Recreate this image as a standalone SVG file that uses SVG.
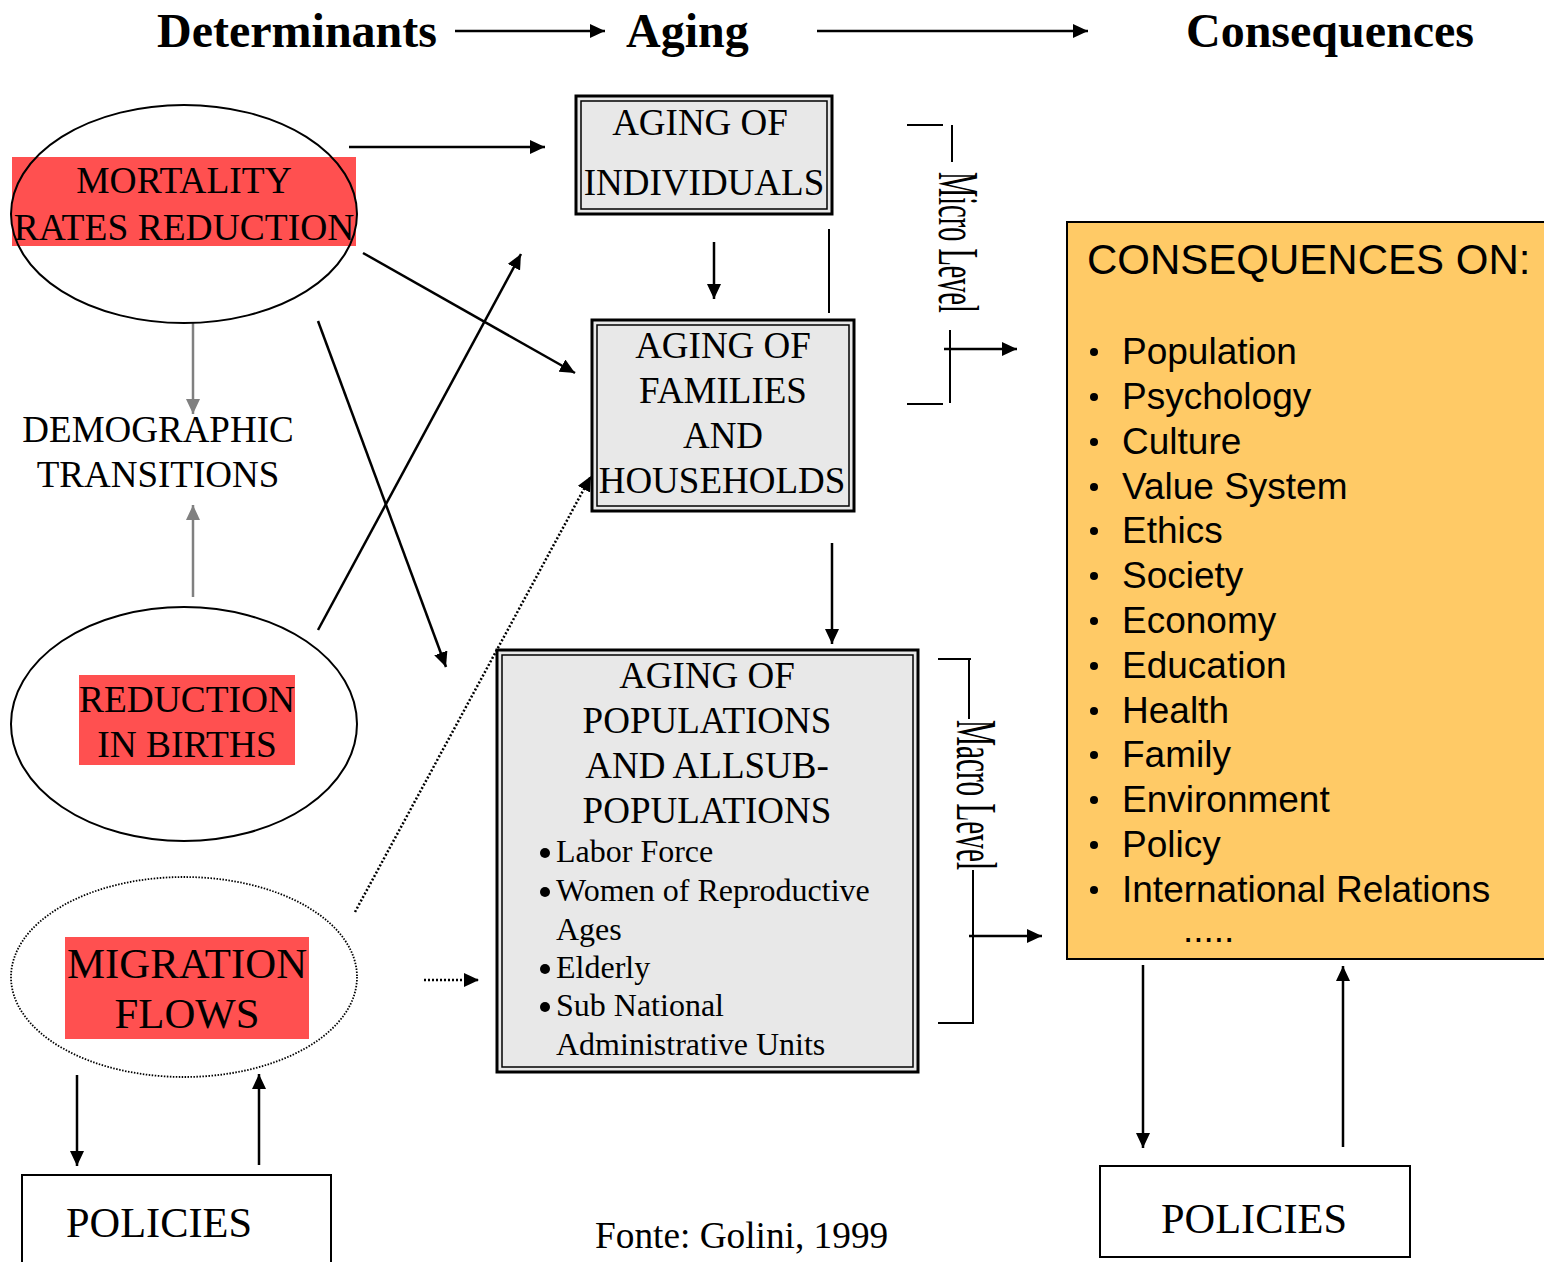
<svg xmlns="http://www.w3.org/2000/svg" width="1544" height="1262" viewBox="0 0 1544 1262">
<style>
.serif{font-family:"Liberation Serif","Times New Roman",serif;fill:#000}
.sans{font-family:"Liberation Sans",Arial,sans-serif;fill:#000}
.hdr{font-size:48px;font-weight:bold}
.mid{font-size:32px}
.cons{font-size:37px}
.conn{stroke:#000;stroke-width:2.5;fill:none}
.gray{stroke:#808080;stroke-width:2.5;fill:none}
.dot{stroke:#000;stroke-width:2.5;fill:none;stroke-dasharray:2,2}
.brk{stroke:#000;stroke-width:2;fill:none}
.oval{fill:none;stroke:#000;stroke-width:2}
.red{fill:#ff5050}
.outer{fill:#e8e8e8;stroke:#000;stroke-width:3}
.inner{fill:none;stroke:#000;stroke-width:1.5}
.cond{font-family:"Liberation Serif","Times New Roman",serif;font-size:57px;fill:#000}
</style>
<defs>
<marker id="ah" markerUnits="userSpaceOnUse" markerWidth="16" markerHeight="14" refX="15" refY="7" orient="auto">
<path d="M0,0 L15,7 L0,14 z" fill="#000"/>
</marker>
<marker id="ahg" markerUnits="userSpaceOnUse" markerWidth="16" markerHeight="14" refX="15" refY="7" orient="auto">
<path d="M0,0 L15,7 L0,14 z" fill="#808080"/>
</marker>
</defs>

<g id="header">
<text class="serif hdr" x="157" y="47">Determinants</text>
<text class="serif hdr" x="626" y="47">Aging</text>
<text class="serif hdr" x="1186" y="47">Consequences</text>
</g>

<g id="connectors">
<line class="conn" x1="455" y1="31" x2="605" y2="31" marker-end="url(#ah)"/>
<line class="conn" x1="817" y1="31" x2="1088" y2="31" marker-end="url(#ah)"/>
<line class="conn" x1="349" y1="147" x2="545" y2="147" marker-end="url(#ah)"/>
<line class="conn" x1="363" y1="253" x2="575" y2="373" marker-end="url(#ah)"/>
<line class="conn" x1="318" y1="321" x2="446" y2="667" marker-end="url(#ah)"/>
<line class="conn" x1="318" y1="630" x2="521" y2="254" marker-end="url(#ah)"/>
<line class="gray" x1="193" y1="323" x2="193" y2="414" marker-end="url(#ahg)"/>
<line class="gray" x1="193" y1="597" x2="193" y2="505" marker-end="url(#ahg)"/>
<line class="dot" x1="355" y1="912" x2="591" y2="476" marker-end="url(#ah)"/>
<line class="dot" x1="424" y1="980" x2="479" y2="980" marker-end="url(#ah)"/>
<line class="conn" x1="77" y1="1075" x2="77" y2="1166" marker-end="url(#ah)"/>
<line class="conn" x1="259" y1="1165" x2="259" y2="1074" marker-end="url(#ah)"/>
<line class="conn" x1="714" y1="242" x2="714" y2="299" marker-end="url(#ah)"/>
<line class="brk" x1="829" y1="229" x2="829" y2="313"/>
<line class="conn" x1="832" y1="543" x2="832" y2="644" marker-end="url(#ah)"/>
<line class="conn" x1="944" y1="349" x2="1017" y2="349" marker-end="url(#ah)"/>
<line class="conn" x1="969" y1="936" x2="1042" y2="936" marker-end="url(#ah)"/>
<line class="conn" x1="1143" y1="965" x2="1143" y2="1148" marker-end="url(#ah)"/>
<line class="conn" x1="1343" y1="1147" x2="1343" y2="966" marker-end="url(#ah)"/>
</g>

<g id="mortality">
<rect class="red" x="12" y="157" width="344" height="89"/>
<ellipse class="oval" cx="184" cy="214" rx="173" ry="109"/>
<text class="serif" font-size="37.5" x="184" y="193" text-anchor="middle">MORTALITY</text>
<text class="serif" font-size="37.5" x="184" y="240" text-anchor="middle">RATES REDUCTION</text>
</g>

<g id="demographic-transitions">
<text class="serif" font-size="37" x="158" y="442" text-anchor="middle">DEMOGRAPHIC</text>
<text class="serif" font-size="37" x="158" y="487" text-anchor="middle">TRANSITIONS</text>
</g>

<g id="births">
<ellipse class="oval" cx="184" cy="724" rx="173" ry="117"/>
<rect class="red" x="79" y="675" width="216" height="90"/>
<text class="serif" font-size="37.4" x="187" y="712" text-anchor="middle">REDUCTION</text>
<text class="serif" font-size="37.4" x="187" y="757" text-anchor="middle">IN BIRTHS</text>
</g>

<g id="migration">
<ellipse cx="184" cy="977" rx="173" ry="100" fill="none" stroke="#000" stroke-width="1.8" stroke-dasharray="1.5,1.5"/>
<rect class="red" x="65" y="937" width="244" height="102"/>
<text class="serif" font-size="42.8" x="187" y="978" text-anchor="middle">MIGRATION</text>
<text class="serif" font-size="42.8" x="187" y="1028" text-anchor="middle">FLOWS</text>
</g>

<g id="policies-left">
<rect x="22" y="1175" width="309" height="100" fill="none" stroke="#000" stroke-width="2"/>
<text class="serif" font-size="42.4" x="66" y="1237">POLICIES</text>
</g>

<g id="aging-individuals">
<rect class="outer" x="576" y="96" width="256" height="118"/>
<rect class="inner" x="581" y="101" width="246" height="108"/>
<text class="serif" font-size="37" x="700" y="135" text-anchor="middle">AGING OF</text>
<text class="serif" font-size="37" x="704" y="195" text-anchor="middle">INDIVIDUALS</text>
</g>

<g id="aging-families">
<rect class="outer" x="592" y="320" width="262" height="191"/>
<rect class="inner" x="597" y="325" width="252" height="181"/>
<text class="serif" font-size="37" x="723" y="358" text-anchor="middle">AGING OF</text>
<text class="serif" font-size="37" x="723" y="403" text-anchor="middle">FAMILIES</text>
<text class="serif" font-size="37" x="723" y="448" text-anchor="middle">AND</text>
<text class="serif" font-size="37" x="722" y="493" text-anchor="middle">HOUSEHOLDS</text>
</g>

<g id="aging-populations">
<rect class="outer" x="497" y="650" width="421" height="422"/>
<rect class="inner" x="502" y="655" width="411" height="412"/>
<text class="serif" font-size="37" x="707" y="688" text-anchor="middle">AGING OF</text>
<text class="serif" font-size="37" x="707" y="733" text-anchor="middle">POPULATIONS</text>
<text class="serif" font-size="37" x="707" y="778" text-anchor="middle">AND ALLSUB-</text>
<text class="serif" font-size="37" x="707" y="823" text-anchor="middle">POPULATIONS</text>
<g class="serif mid">
<circle cx="545" cy="853" r="5"/>
<text x="556" y="862">Labor Force</text>
<circle cx="545" cy="892" r="5"/>
<text x="556" y="901">Women of Reproductive</text>
<text x="556" y="940">Ages</text>
<circle cx="545" cy="969" r="5"/>
<text x="556" y="978">Elderly</text>
<circle cx="545" cy="1007" r="5"/>
<text x="556" y="1016">Sub National</text>
<text x="556" y="1055">Administrative Units</text>
</g>
</g>

<g id="micro-level">
<line class="brk" x1="907" y1="125" x2="943" y2="125"/>
<line class="brk" x1="952" y1="125" x2="952" y2="162"/>
<text class="cond" transform="translate(939,172) rotate(90)" x="0" y="0" textLength="141" lengthAdjust="spacingAndGlyphs">Micro Level</text>
<line class="brk" x1="950" y1="330" x2="950" y2="403"/>
<line class="brk" x1="907" y1="404" x2="943" y2="404"/>
</g>

<g id="macro-level">
<line class="brk" x1="938" y1="659" x2="971" y2="659"/>
<line class="brk" x1="969" y1="659" x2="969" y2="719"/>
<text class="cond" transform="translate(957,720) rotate(90)" x="0" y="0" textLength="150" lengthAdjust="spacingAndGlyphs">Macro Level</text>
<line class="brk" x1="973" y1="870" x2="973" y2="1024"/>
<line class="brk" x1="938" y1="1023" x2="974" y2="1023"/>
</g>

<g id="consequences">
<rect x="1067" y="222" width="490" height="737" fill="#ffca66" stroke="#000" stroke-width="2"/>
<text class="sans" font-size="42" x="1087" y="274">CONSEQUENCES ON:</text>
<g class="sans cons">
<circle cx="1094" cy="352" r="4"/><text x="1122" y="364">Population</text>
<circle cx="1094" cy="397" r="4"/><text x="1122" y="409">Psychology</text>
<circle cx="1094" cy="442" r="4"/><text x="1122" y="454">Culture</text>
<circle cx="1094" cy="487" r="4"/><text x="1122" y="499">Value System</text>
<circle cx="1094" cy="531" r="4"/><text x="1122" y="543">Ethics</text>
<circle cx="1094" cy="576" r="4"/><text x="1122" y="588">Society</text>
<circle cx="1094" cy="621" r="4"/><text x="1122" y="633">Economy</text>
<circle cx="1094" cy="666" r="4"/><text x="1122" y="678">Education</text>
<circle cx="1094" cy="711" r="4"/><text x="1122" y="723">Health</text>
<circle cx="1094" cy="755" r="4"/><text x="1122" y="767">Family</text>
<circle cx="1094" cy="800" r="4"/><text x="1122" y="812">Environment</text>
<circle cx="1094" cy="845" r="4"/><text x="1122" y="857">Policy</text>
<circle cx="1094" cy="890" r="4"/><text x="1122" y="902">International Relations</text>
<text x="1183" y="942">.....</text>
</g>
</g>

<g id="policies-right">
<rect x="1100" y="1166" width="310" height="91" fill="none" stroke="#000" stroke-width="2"/>
<text class="serif" font-size="42.4" x="1254" y="1233" text-anchor="middle">POLICIES</text>
</g>

<g id="source">
<text class="serif" font-size="37.3" x="595" y="1248">Fonte: Golini, 1999</text>
</g>
</svg>
